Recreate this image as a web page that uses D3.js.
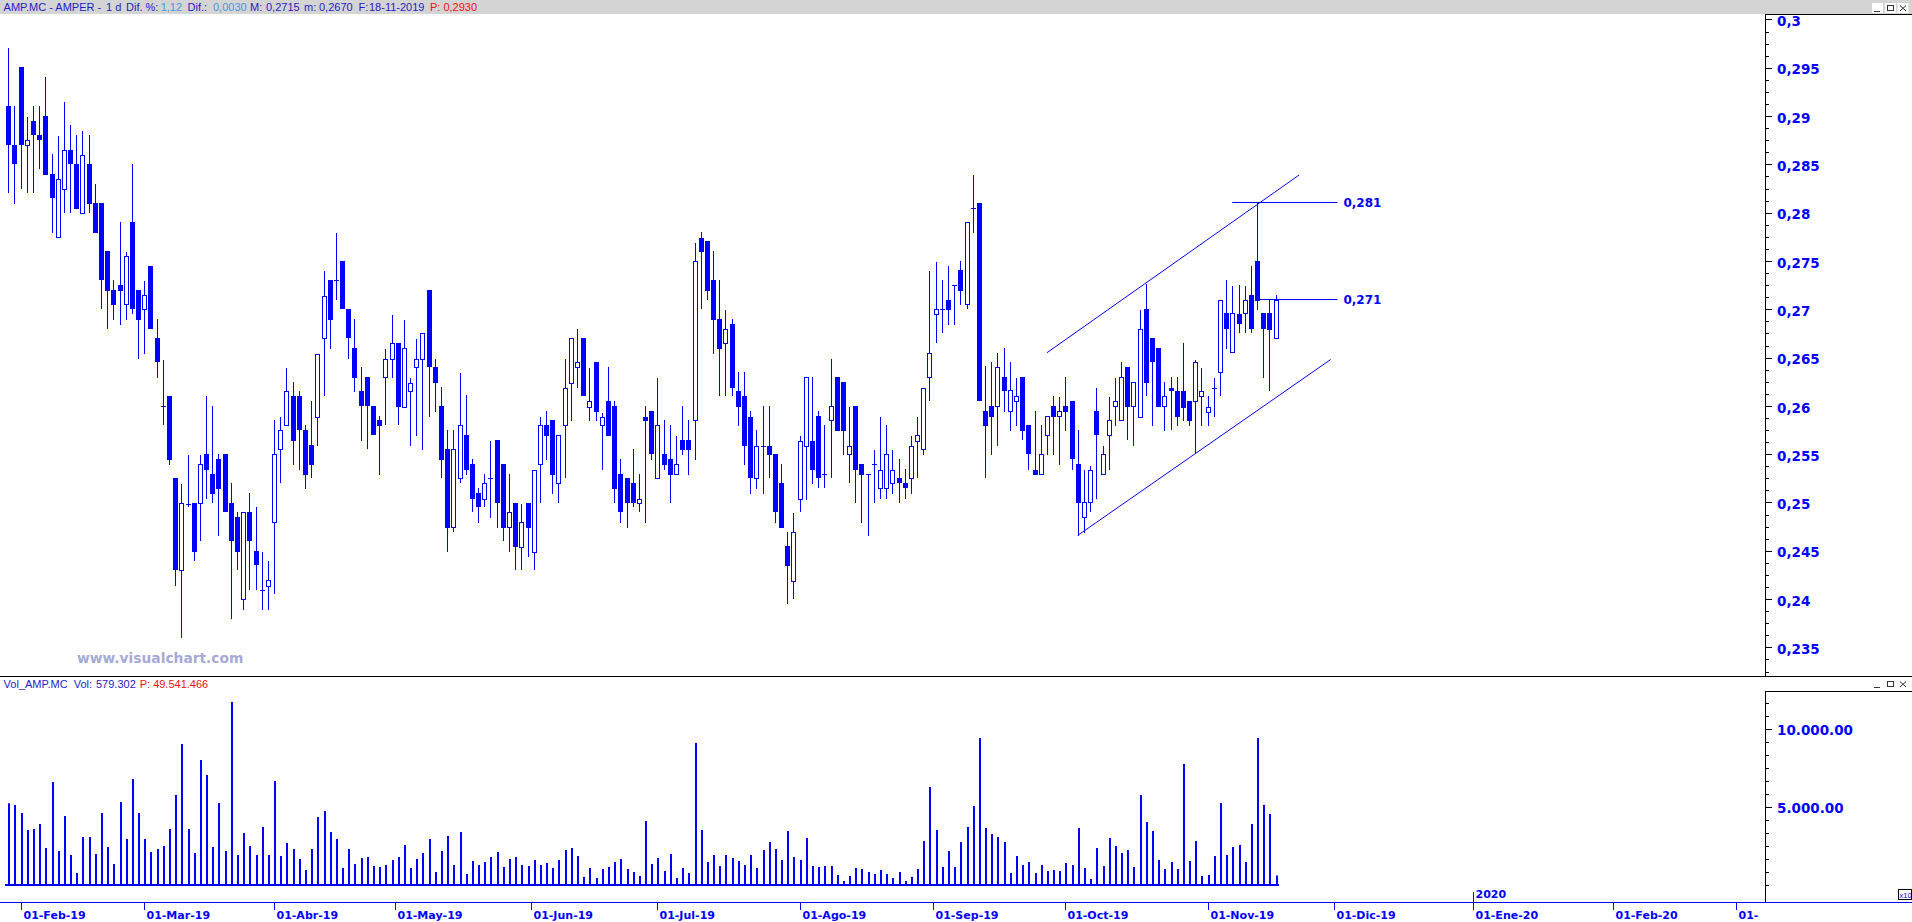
<!DOCTYPE html>
<html><head><meta charset="utf-8">
<script src="https://cdn.jsdelivr.net/npm/d3@7"></script>
<style>html,body{margin:0;padding:0;background:#fff;overflow:hidden}svg{display:block}</style>
</head><body>
<svg id="c" width="1912" height="922"></svg>
<script>
// ---------------- DATA ----------------
const startDate = "2019-01-30";
const holidays = ["2019-04-19", "2019-04-22", "2019-05-01"];
const monthNames = ["Ene","Feb","Mar","Abr","May","Jun","Jul","Ago","Sep","Oct","Nov","Dic"];

const opens = [
0.2910,0.2870,0.2951,0.2870,0.2895,0.2880,0.2900,0.2840,0.2775,0.2825,
0.2865,0.2850,0.2800,0.2850,0.2810,0.2810,0.2760,0.2720,0.2725,0.2705,
0.2790,0.2720,0.2700,0.2745,0.2670,0.2600,0.2610,0.2525,0.2430,0.2498,
0.2499,0.2499,0.2550,0.2529,0.2545,0.2550,0.2499,0.2485,0.2400,0.2490,
0.2450,0.2409,0.2414,0.2480,0.2555,0.2580,0.2610,0.2610,0.2575,0.2560,
0.2589,0.2670,0.2730,0.2730,0.2750,0.2700,0.2660,0.2615,0.2630,0.2600,
0.2585,0.2630,0.2649,0.2665,0.2599,0.2615,0.2640,0.2649,0.2720,0.2640,
0.2600,0.2555,0.2475,0.2525,0.2570,0.2540,0.2510,0.2504,0.2525,0.2565,
0.2540,0.2475,0.2499,0.2454,0.2499,0.2449,0.2540,0.2580,0.2585,0.2520,
0.2580,0.2624,0.2640,0.2670,0.2599,0.2645,0.2580,0.2605,0.2600,0.2529,
0.2525,0.2520,0.2499,0.2589,0.2595,0.2525,0.2550,0.2545,0.2529,0.2565,
0.2565,0.2585,0.2774,0.2771,0.2730,0.2690,0.2665,0.2685,0.2615,0.2610,
0.2589,0.2525,0.2559,0.2559,0.2550,0.2520,0.2455,0.2419,0.2504,0.2559,
0.2564,0.2590,0.2529,0.2585,0.2630,0.2625,0.2550,0.2600,0.2540,0.2530,
0.2540,0.2515,0.2515,0.2520,0.2525,0.2520,0.2525,0.2564,0.2555,0.2630,
0.2695,0.2700,0.2710,0.2725,0.2741,0.2706,0.2805,0.2810,0.2595,0.2600,
0.2600,0.2630,0.2595,0.2605,0.2630,0.2580,0.2534,0.2530,0.2570,0.2600,
0.2590,0.2600,0.2605,0.2540,0.2485,0.2500,0.2595,0.2530,0.2570,0.2600,
0.2585,0.2640,0.2600,0.2589,0.2700,0.2670,0.2660,0.2600,0.2619,0.2615,
0.2615,0.2605,0.2605,0.2610,0.2594,0.2619,0.2635,0.2696,0.2656,0.2695,
0.2696,0.2715,0.2750,0.2696,0.2696,0.2670];

const highs = [
0.2970,0.2910,0.2951,0.2899,0.2910,0.2910,0.2940,0.2861,0.2879,0.2915,
0.2891,0.2880,0.2885,0.2880,0.2830,0.2810,0.2760,0.2730,0.2790,0.2759,
0.2850,0.2720,0.2729,0.2745,0.2690,0.2648,0.2610,0.2525,0.2519,0.2549,
0.2499,0.2549,0.2610,0.2600,0.2550,0.2550,0.2520,0.2490,0.2490,0.2510,
0.2495,0.2449,0.2439,0.2585,0.2588,0.2639,0.2625,0.2615,0.2580,0.2605,
0.2654,0.2740,0.2730,0.2779,0.2750,0.2700,0.2690,0.2640,0.2630,0.2600,
0.2590,0.2659,0.2694,0.2665,0.2689,0.2629,0.2669,0.2675,0.2720,0.2649,
0.2620,0.2575,0.2575,0.2634,0.2611,0.2545,0.2515,0.2529,0.2564,0.2565,
0.2540,0.2529,0.2499,0.2498,0.2499,0.2534,0.2589,0.2595,0.2585,0.2570,
0.2649,0.2670,0.2680,0.2670,0.2639,0.2645,0.2593,0.2640,0.2605,0.2545,
0.2525,0.2555,0.2529,0.2600,0.2595,0.2629,0.2585,0.2580,0.2569,0.2600,
0.2585,0.2769,0.2780,0.2771,0.2760,0.2730,0.2699,0.2690,0.2635,0.2635,
0.2595,0.2575,0.2600,0.2600,0.2550,0.2540,0.2469,0.2489,0.2569,0.2630,
0.2630,0.2595,0.2580,0.2649,0.2630,0.2625,0.2599,0.2600,0.2540,0.2530,
0.2554,0.2589,0.2580,0.2554,0.2545,0.2535,0.2569,0.2589,0.2619,0.2740,
0.2749,0.2730,0.2745,0.2725,0.2750,0.2790,0.2839,0.2810,0.2641,0.2645,
0.2655,0.2660,0.2645,0.2629,0.2630,0.2580,0.2595,0.2580,0.2590,0.2610,
0.2609,0.2630,0.2605,0.2575,0.2534,0.2538,0.2619,0.2559,0.2609,0.2629,
0.2645,0.2640,0.2625,0.2699,0.2726,0.2670,0.2660,0.2625,0.2630,0.2630,
0.2665,0.2605,0.2648,0.2639,0.2610,0.2629,0.2710,0.2730,0.2724,0.2725,
0.2724,0.2745,0.2810,0.2696,0.2710,0.2715];

const lows = [
0.2821,0.2810,0.2826,0.2821,0.2821,0.2846,0.2840,0.2780,0.2775,0.2801,
0.2801,0.2805,0.2800,0.2801,0.2780,0.2701,0.2681,0.2690,0.2685,0.2690,
0.2696,0.2650,0.2655,0.2681,0.2630,0.2581,0.2540,0.2415,0.2361,0.2496,
0.2440,0.2461,0.2505,0.2500,0.2466,0.2491,0.2380,0.2431,0.2390,0.2410,
0.2410,0.2390,0.2390,0.2406,0.2521,0.2580,0.2540,0.2535,0.2515,0.2526,
0.2560,0.2611,0.2660,0.2711,0.2701,0.2650,0.2615,0.2565,0.2556,0.2571,
0.2530,0.2581,0.2630,0.2581,0.2599,0.2560,0.2570,0.2555,0.2590,0.2595,
0.2526,0.2450,0.2470,0.2521,0.2530,0.2491,0.2480,0.2496,0.2485,0.2475,
0.2461,0.2450,0.2431,0.2431,0.2445,0.2431,0.2500,0.2545,0.2510,0.2500,
0.2526,0.2585,0.2620,0.2611,0.2585,0.2585,0.2535,0.2570,0.2500,0.2480,
0.2475,0.2496,0.2491,0.2480,0.2545,0.2525,0.2535,0.2500,0.2529,0.2550,
0.2530,0.2545,0.2701,0.2711,0.2655,0.2611,0.2611,0.2611,0.2580,0.2540,
0.2510,0.2515,0.2510,0.2526,0.2480,0.2475,0.2396,0.2401,0.2491,0.2504,
0.2520,0.2516,0.2516,0.2526,0.2575,0.2550,0.2521,0.2500,0.2480,0.2466,
0.2500,0.2505,0.2505,0.2510,0.2500,0.2505,0.2510,0.2526,0.2550,0.2606,
0.2666,0.2676,0.2685,0.2685,0.2706,0.2701,0.2780,0.2606,0.2526,0.2550,
0.2560,0.2595,0.2575,0.2580,0.2566,0.2535,0.2530,0.2530,0.2550,0.2550,
0.2540,0.2575,0.2535,0.2466,0.2469,0.2491,0.2505,0.2530,0.2535,0.2580,
0.2585,0.2566,0.2560,0.2589,0.2611,0.2580,0.2600,0.2575,0.2576,0.2580,
0.2585,0.2580,0.2551,0.2580,0.2580,0.2590,0.2611,0.2660,0.2656,0.2676,
0.2676,0.2676,0.2700,0.2630,0.2616,0.2670];

const closes = [
0.2871,0.2851,0.2871,0.2875,0.2881,0.2876,0.2840,0.2816,0.2835,0.2865,
0.2851,0.2805,0.2860,0.2810,0.2780,0.2731,0.2720,0.2706,0.2720,0.2755,
0.2701,0.2690,0.2715,0.2681,0.2646,0.2600,0.2545,0.2431,0.2499,0.2498,
0.2450,0.2540,0.2535,0.2510,0.2515,0.2491,0.2461,0.2450,0.2490,0.2461,
0.2436,0.2409,0.2420,0.2550,0.2575,0.2615,0.2565,0.2576,0.2530,0.2540,
0.2654,0.2714,0.2690,0.2730,0.2701,0.2671,0.2630,0.2601,0.2601,0.2571,
0.2580,0.2649,0.2665,0.2600,0.2660,0.2624,0.2649,0.2675,0.2641,0.2625,
0.2545,0.2475,0.2555,0.2580,0.2535,0.2505,0.2496,0.2520,0.2525,0.2500,
0.2475,0.2490,0.2455,0.2480,0.2475,0.2534,0.2580,0.2570,0.2530,0.2570,
0.2619,0.2670,0.2645,0.2611,0.2605,0.2595,0.2589,0.2570,0.2515,0.2491,
0.2500,0.2500,0.2504,0.2585,0.2551,0.2580,0.2540,0.2530,0.2540,0.2555,
0.2555,0.2750,0.2760,0.2720,0.2690,0.2660,0.2680,0.2620,0.2600,0.2560,
0.2526,0.2559,0.2559,0.2550,0.2491,0.2475,0.2435,0.2469,0.2564,0.2630,
0.2535,0.2526,0.2529,0.2600,0.2575,0.2575,0.2559,0.2535,0.2530,0.2530,
0.2540,0.2534,0.2550,0.2534,0.2521,0.2516,0.2559,0.2570,0.2619,0.2655,
0.2700,0.2700,0.2700,0.2725,0.2720,0.2790,0.2805,0.2606,0.2580,0.2590,
0.2640,0.2616,0.2616,0.2610,0.2575,0.2551,0.2530,0.2550,0.2590,0.2590,
0.2595,0.2595,0.2546,0.2500,0.2500,0.2534,0.2571,0.2550,0.2585,0.2605,
0.2630,0.2600,0.2625,0.2680,0.2625,0.2646,0.2600,0.2610,0.2616,0.2590,
0.2599,0.2585,0.2645,0.2615,0.2599,0.2619,0.2710,0.2681,0.2696,0.2686,
0.2710,0.2681,0.2710,0.2681,0.2680,0.2710];

const volumes = [
5204,5096,4583,3493,3558,3878,2340,6570,2147,4391,
1891,737,3045,3045,1955,4583,2404,1314,5288,2917,
6763,4583,2917,2083,2276,2468,3558,5737,9006,3558,
2019,7980,7019,2404,5224,2147,11698,1891,3301,2468,
1891,3686,1891,6634,1827,2660,2276,1635,929,2276,
4327,4711,3365,2917,1058,2276,1314,1699,1763,1186,
1122,1250,1570,1763,2532,1058,1635,2019,2917,801,
2147,3109,1250,3365,673,1506,1250,1442,1763,2083,
1122,1635,1763,1250,1186,1570,1250,1378,1058,1570,
2211,2340,1827,481,1058,417,994,1122,1442,1635,
994,801,545,4070,1314,1699,865,1955,417,1058,
737,9070,3493,1442,1891,1186,1891,1699,1506,1250,
1891,1058,2211,2724,2276,1570,3429,1763,1570,2981,
1186,1122,1186,1186,609,224,545,1058,994,801,
673,929,673,417,801,224,481,994,2788,6250,
3493,1122,2147,1122,2724,3686,5032,9391,3622,3237,
3045,2724,737,1827,1250,1442,737,1250,865,929,
865,1378,1250,3622,1058,353,2340,1186,2981,2468,
2019,2211,1122,5737,4006,3429,1570,994,1442,994,
7724,1506,2788,545,609,1827,5224,1891,2404,2532,
1442,3878,9391,5096,4519,579];

const priceTicks = [0.235,0.24,0.245,0.25,0.255,0.26,0.265,0.27,0.275,0.28,0.285,0.29,0.295,0.3];
const priceTickLabels = ["0,235","0,24","0,245","0,25","0,255","0,26","0,265","0,27","0,275","0,28","0,285","0,29","0,295","0,3"];
const volumeTicks = [5000, 10000];
const volumeTickLabels = ["5.000.00", "10.000.00"];

const levelValues = [0.281, 0.271];
const levelLabels = ["0,281", "0,271"];
const levelStart = [198, 202];
const levelEnd = [215, 215];
const channelUpper = [[168, 0.2655], [208.8, 0.2839]];
const channelLower = [[173, 0.2466], [213.9, 0.2648]];

const headerParts = [
  {t:"AMP.MC - AMPER -", c:"dark", x:3.6},
  {t:"1 d", c:"dark", x:106},
  {t:"Dif. %:", c:"dark", x:126},
  {t:"1,12", c:"light", x:160.7},
  {t:"Dif.:", c:"dark", x:187.5},
  {t:"0,0030", c:"light", x:213},
  {t:"M:", c:"dark", x:250},
  {t:"0,2715", c:"dark", x:266},
  {t:"m:", c:"dark", x:304},
  {t:"0,2670", c:"dark", x:319},
  {t:"F:", c:"dark", x:358.5},
  {t:"18-11-2019", c:"dark", x:369},
  {t:"P: 0,2930", c:"red", x:430}
];
const volParts = [
  {t:"Vol_AMP.MC", c:"dark", x:3.6},
  {t:"Vol:", c:"dark", x:73.7},
  {t:"579.302", c:"dark", x:96},
  {t:"P: 49.541.466", c:"red", x:139.7}
];

// ---------------- RENDER ----------------
const W = 1912, H = 922, AX = 1765;
const BLUE = "#0000ff";
const textColors = {dark:"#1c1cc8", light:"#4a98e0", red:"#f01010"};
const svg = d3.select("#c");

const x = d3.scaleLinear().domain([0, 205]).range([8.3, 8.3 + 205 * 6.182]);
const yP = d3.scaleLinear().domain([0.235, 0.3]).range([647.4, 19.5]);
const yV = d3.scaleLinear().domain([0, 10000]).range([884.5, 728.5]);

// dates
const fmt = d3.timeFormat("%Y-%m-%d");
const dates = [];
let d = d3.timeParse("%Y-%m-%d")(startDate);
while (dates.length < opens.length) {
  const wd = d.getDay();
  if (wd !== 0 && wd !== 6 && !holidays.includes(fmt(d))) dates.push(new Date(d));
  d = d3.timeDay.offset(d, 1);
}
const futureEnd = new Date(2020, 3, 1);
while (d < futureEnd) {
  const wd = d.getDay();
  if (wd !== 0 && wd !== 6) dates.push(new Date(d));
  d = d3.timeDay.offset(d, 1);
}

svg.append("rect").attr("width", W).attr("height", H).attr("fill", "#fff");

// header bar
svg.append("rect").attr("x",0).attr("y",0).attr("width",W).attr("height",14).attr("fill","#d4d4d4");
svg.append("g").selectAll("text").data(headerParts).join("text")
  .attr("x", p => p.x).attr("y", 11)
  .attr("font-family", "Liberation Sans, Arial, sans-serif").attr("font-size", 11)
  .attr("fill", p => textColors[p.c]).text(p => p.t);

function winButtons(y0) {
  const g = svg.append("g");
  const xs = [1872, 1885, 1897.5];
  xs.forEach((bx, k) => {
    g.append("rect").attr("x", bx).attr("y", y0).attr("width", 11).attr("height", 10).attr("fill", "#fff");
    if (k === 0) g.append("line").attr("x1", bx+2).attr("x2", bx+8).attr("y1", y0+8.5).attr("y2", y0+8.5).attr("stroke","#333");
    if (k === 1) g.append("rect").attr("x", bx+2.5).attr("y", y0+2.5).attr("width",6).attr("height",5).attr("fill","none").attr("stroke","#333");
    if (k === 2) {
      g.append("line").attr("x1",bx+2.5).attr("x2",bx+8.5).attr("y1",y0+2.5).attr("y2",y0+8).attr("stroke","#333");
      g.append("line").attr("x1",bx+8.5).attr("x2",bx+2.5).attr("y1",y0+2.5).attr("y2",y0+8).attr("stroke","#333");
    }
  });
}
winButtons(3);

// price-pane right axis
const axG = svg.append("g");
axG.append("line").attr("x1", AX+0.5).attr("x2", AX+0.5).attr("y1", 14).attr("y2", 676).attr("stroke", "#000");
axG.append("line").attr("x1", AX).attr("x2", W).attr("y1", 14.5).attr("y2", 14.5).attr("stroke", "#000");
const minor = d3.range(0, 56).map(k => 0.2325 + k * 0.00125).filter(p => yP(p) > 15 && yP(p) < 675);
axG.selectAll("line.mn").data(minor).join("line").attr("class","mn")
  .attr("x1", AX).attr("x2", d => (Math.abs((d*1000) % 5) < 0.01 || Math.abs((d*1000) % 5 - 5) < 0.01) ? AX+7 : AX+4)
  .attr("y1", d => Math.round(yP(d)) + 0.5).attr("y2", d => Math.round(yP(d)) + 0.5).attr("stroke", "#000");
axG.selectAll("text").data(priceTicks).join("text")
  .attr("x", 1777).attr("y", d => yP(d) + 6.6)
  .attr("font-family", "DejaVu Sans, Verdana, sans-serif").attr("font-weight", "bold").attr("font-size", 13.5)
  .attr("fill", BLUE).text((d, i) => priceTickLabels[i]);

// price pane content (clipped)
svg.append("clipPath").attr("id", "pc").append("rect").attr("x", 0).attr("y", 15).attr("width", AX).attr("height", 660);
const pg = svg.append("g").attr("clip-path", "url(#pc)");

// watermark
pg.append("text").attr("x", 77).attr("y", 663).attr("font-family", "DejaVu Sans, Verdana, sans-serif")
  .attr("font-weight", "bold").attr("font-size", 13.8).attr("fill", "#a6aad6").text("www.visualchart.com");

const idx = d3.range(opens.length);
const cg = pg.append("g");
idx.forEach(i => {
  const cx = Math.round(x(i));
  const o = opens[i], c = closes[i];
  cg.append("line").attr("x1", cx+0.5).attr("x2", cx+0.5)
    .attr("y1", Math.round(yP(highs[i]))).attr("y2", Math.round(yP(lows[i])) + 1)
    .attr("stroke", BLUE).attr("stroke-width", 1);
  const yt = Math.round(yP(Math.max(o, c))), yb = Math.round(yP(Math.min(o, c)));
  if (Math.abs(o - c) < 1e-9 || yb - yt < 1) {
    cg.append("line").attr("x1", cx-2).attr("x2", cx+3).attr("y1", yt+0.5).attr("y2", yt+0.5).attr("stroke", BLUE);
  } else if (c < o) {
    cg.append("rect").attr("x", cx-2).attr("y", yt).attr("width", 5).attr("height", yb - yt + 1).attr("fill", BLUE);
  } else {
    cg.append("rect").attr("x", cx-1.5).attr("y", yt+0.5).attr("width", 4).attr("height", Math.max(1, yb - yt))
      .attr("fill", "#fff").attr("stroke", BLUE).attr("stroke-width", 1);
  }
});

// channel & level lines
const lineGen = d3.line().x(p => x(p[0])).y(p => yP(p[1]));
[channelUpper, channelLower].forEach(ch => {
  pg.append("path").attr("d", lineGen(ch)).attr("fill", "none").attr("stroke", BLUE).attr("stroke-width", 1);
});
levelValues.forEach((v, k) => {
  const yy = Math.round(yP(v)) - 0.5;
  pg.append("line").attr("x1", x(levelStart[k])).attr("x2", x(levelEnd[k])).attr("y1", yy).attr("y2", yy)
    .attr("stroke", BLUE).attr("stroke-width", 1);
  pg.append("text").attr("x", x(levelEnd[k]) + 6).attr("y", yy + 4.5)
    .attr("font-family", "DejaVu Sans, Verdana, sans-serif").attr("font-weight", "bold").attr("font-size", 12)
    .attr("fill", BLUE).text(levelLabels[k]);
});

// pane separator
svg.append("line").attr("x1", 0).attr("x2", W).attr("y1", 676.5).attr("y2", 676.5).attr("stroke", "#000");

// volume pane
svg.append("g").selectAll("text").data(volParts).join("text")
  .attr("x", p => p.x).attr("y", 688)
  .attr("font-family", "Liberation Sans, Arial, sans-serif").attr("font-size", 11)
  .attr("fill", p => textColors[p.c]).text(p => p.t);
winButtons(679);

const vax = svg.append("g");
vax.append("line").attr("x1", AX).attr("x2", W).attr("y1", 691.5).attr("y2", 691.5).attr("stroke", "#000");
vax.append("line").attr("x1", AX+0.5).attr("x2", AX+0.5).attr("y1", 691).attr("y2", 902).attr("stroke", "#000");
const vminor = d3.range(0, 15).map(k => k * 5000 / 6).filter(v => yV(v) > 693);
vax.selectAll("line.vm").data(vminor).join("line").attr("class", "vm")
  .attr("x1", AX).attr("x2", (v, k) => (k % 6 === 0 && k > 0) ? AX+7 : AX+4)
  .attr("y1", v => Math.round(yV(v)) + 0.5).attr("y2", v => Math.round(yV(v)) + 0.5).attr("stroke", "#000");
vax.selectAll("text").data(volumeTicks).join("text")
  .attr("x", 1777).attr("y", v => yV(v) + 6)
  .attr("font-family", "DejaVu Sans, Verdana, sans-serif").attr("font-weight", "bold").attr("font-size", 13.5)
  .attr("fill", BLUE).text((v, i) => volumeTickLabels[i]);
// x10 box
vax.append("rect").attr("x", 1898.5).attr("y", 889.5).attr("width", 13).attr("height", 10).attr("fill", "#fff").attr("stroke", "#000");
vax.append("text").attr("x", 1899.5).attr("y", 898).attr("font-family", "Liberation Sans, Arial, sans-serif")
  .attr("font-size", 7.5).attr("fill", BLUE).text("x10");

const vg = svg.append("g");
vg.selectAll("rect").data(idx).join("rect")
  .attr("x", i => Math.round(x(i))).attr("y", i => yV(volumes[i]))
  .attr("width", 2).attr("height", i => yV(0) - yV(volumes[i]) + 1).attr("fill", BLUE);
vg.append("rect").attr("x", Math.round(x(0)) - 3).attr("y", 884).attr("width", Math.round(x(205)) - Math.round(x(0)) + 6)
  .attr("height", 2).attr("fill", BLUE);

// x axis
svg.append("line").attr("x1", 0).attr("x2", W).attr("y1", 902.5).attr("y2", 902.5).attr("stroke", BLUE);
const ticks = [];
for (let m = new Date(2019, 1, 1); m < new Date(2020, 3, 1); m = d3.timeMonth.offset(m, 1)) {
  const k = dates.findIndex(dd => dd >= m);
  if (k < 0) continue;
  const same = dates[k].getTime() === m.getTime();
  ticks.push({pos: same ? k : k - 0.5, m: m.getMonth(), y: m.getFullYear()});
}
svg.append("clipPath").attr("id", "xc").append("rect").attr("x", 0).attr("y", 880).attr("width", 1759).attr("height", 42);
const xg = svg.append("g").attr("clip-path", "url(#xc)");
ticks.forEach(t => {
  const tx = Math.round(x(t.pos)) + 0.5;
  xg.append("line").attr("x1", tx).attr("x2", tx).attr("y1", t.m === 0 ? 892 : 903).attr("y2", 910).attr("stroke", BLUE);
  xg.append("text").attr("x", tx + 2).attr("y", 919)
    .attr("font-family", "DejaVu Sans, Verdana, sans-serif").attr("font-weight", "bold").attr("font-size", 11)
    .attr("fill", BLUE).text("01-" + monthNames[t.m] + "-" + String(t.y).slice(2));
  if (t.m === 0) {
    xg.append("text").attr("x", tx + 2).attr("y", 898)
      .attr("font-family", "DejaVu Sans, Verdana, sans-serif").attr("font-weight", "bold").attr("font-size", 11)
      .attr("fill", BLUE).text(String(t.y));
  }
});
</script>
</body></html>
